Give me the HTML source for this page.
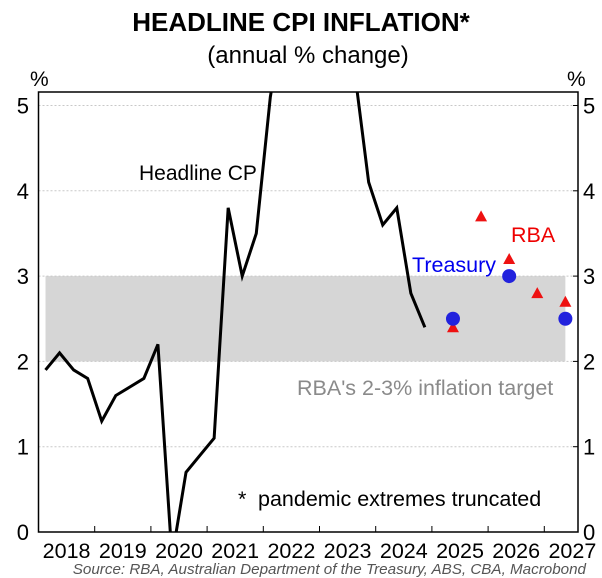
<!DOCTYPE html>
<html><head><meta charset="utf-8"><style>
body{margin:0;background:#fff}
svg{display:block;font-family:"Liberation Sans",Arial,sans-serif}
</style></head><body>
<svg id="chart" width="602" height="578" viewBox="0 0 602 578" xmlns="http://www.w3.org/2000/svg">
<text x="301" y="31" text-anchor="middle" font-size="26" font-weight="bold">HEADLINE CPI INFLATION*</text>
<text x="308" y="63" text-anchor="middle" font-size="24">(annual % change)</text>
<g id="plot"></g>
<text x="139" y="180" font-size="21">Headline CP</text>
<text x="412" y="272" font-size="21.5" fill="#0000ee">Treasury</text>
<text x="511" y="242" font-size="21.5" fill="#ee0000">RBA</text>
<text x="297" y="395" font-size="21.5" fill="#8a8a8a">RBA's 2-3% inflation target</text>
<text font-size="21.5"><tspan x="238" y="506">*</tspan><tspan x="258" y="506">pandemic extremes truncated</tspan></text>
<text x="30" y="86" font-size="21">%</text>
<text x="567" y="86" font-size="21">%</text>
<text x="586" y="574" text-anchor="end" font-size="15.2" font-style="italic" fill="#555">Source: RBA, Australian Department of the Treasury, ABS, CBA, Macrobond</text>
</svg>
<script>
const cpiDates=[2018.125,2018.375,2018.625,2018.875,2019.125,2019.375,2019.625,2019.875,2020.125,2020.375,2020.625,2020.875,2021.125,2021.375,2021.625,2021.875,2022.125,2022.375,2022.625,2022.875,2023.125,2023.375,2023.625,2023.875,2024.125,2024.375,2024.625,2024.875];
const cpiValues=[1.9,2.1,1.9,1.8,1.3,1.6,1.7,1.8,2.2,-0.3,0.7,0.9,1.1,3.8,3.0,3.5,5.1,6.1,7.3,7.8,7.0,6.0,5.4,4.1,3.6,3.8,2.8,2.4];
const treasuryDates=[2025.375,2026.375,2027.375];
const treasuryValues=[2.5,3.0,2.5];
const rbaDates=[2025.375,2025.875,2026.375,2026.875,2027.375];
const rbaValues=[2.4,3.7,3.2,2.8,2.7];
const yTicks=[0,1,2,3,4,5];
const yearLabels=[2018,2019,2020,2021,2022,2023,2024,2025,2026,2027];
const targetLow=2, targetHigh=3;

const NS="http://www.w3.org/2000/svg";
const L=38.5,R=578,T=92,B=532;
const xS=t=>L+(t-2018)*56.2;
const yS=v=>532-v*85.3;
const g=document.getElementById('plot');
function mk(tag,attrs){const e=document.createElementNS(NS,tag);for(const k in attrs)e.setAttribute(k,attrs[k]);g.appendChild(e);return e;}

const clip=mk('clipPath',{id:'pc'});
const cr=document.createElementNS(NS,'rect');cr.setAttribute('x',L);cr.setAttribute('y',T);cr.setAttribute('width',R-L);cr.setAttribute('height',B-T);clip.appendChild(cr);

const band=mk('rect',{x:xS(cpiDates[0]),y:yS(targetHigh),width:xS(rbaDates[rbaDates.length-1])-xS(cpiDates[0]),height:yS(targetLow)-yS(targetHigh),fill:'#d6d6d6'});



yTicks.forEach(v=>{
  if(v>0){const gl=mk('line',{x1:L,x2:R,y1:yS(v),y2:yS(v),stroke:'#c8c8c8','stroke-dasharray':'2,2','stroke-width':1});
  
  }
  const a=mk('text',{x:29,y:yS(v)+8,'text-anchor':'end','font-size':22});a.textContent=v;
  
  
  const b=mk('text',{x:583,y:yS(v)+8,'font-size':22});b.textContent=v;
  
  
  mk('line',{x1:R-5,x2:R,y1:yS(v),y2:yS(v),stroke:'#000'});
});
yearLabels.forEach(y=>{
  if(y>2018) mk('line',{x1:xS(y),x2:xS(y),y1:B,y2:B-6,stroke:'#000'});
  const t=mk('text',{x:xS(y+0.5),y:558,'text-anchor':'middle','font-size':21.5});t.textContent=y;
  
  
});

const line=mk('polyline',{points:cpiDates.map((d,i)=>xS(d)+','+yS(cpiValues[i])).join(' '),fill:'none',stroke:'#000','stroke-width':3,'clip-path':'url(#pc)','stroke-linejoin':'miter'});



rbaDates.forEach((d,i)=>{const x=xS(d),y=yS(rbaValues[i]);
  const p=mk('polygon',{points:`${x},${y-6} ${x-6},${y+5} ${x+6},${y+5}`,fill:'#ee1111'});
  
  
});
treasuryDates.forEach((d,i)=>{
  const c=mk('circle',{cx:xS(d),cy:yS(treasuryValues[i]),r:7,fill:'#2222dd'});
  
  
});

const frame=mk('path',{d:`M${L},${T}H${R}V${B}H${L}Z`,fill:'none',stroke:'#000','stroke-width':1.5});


</script>
</body></html>
